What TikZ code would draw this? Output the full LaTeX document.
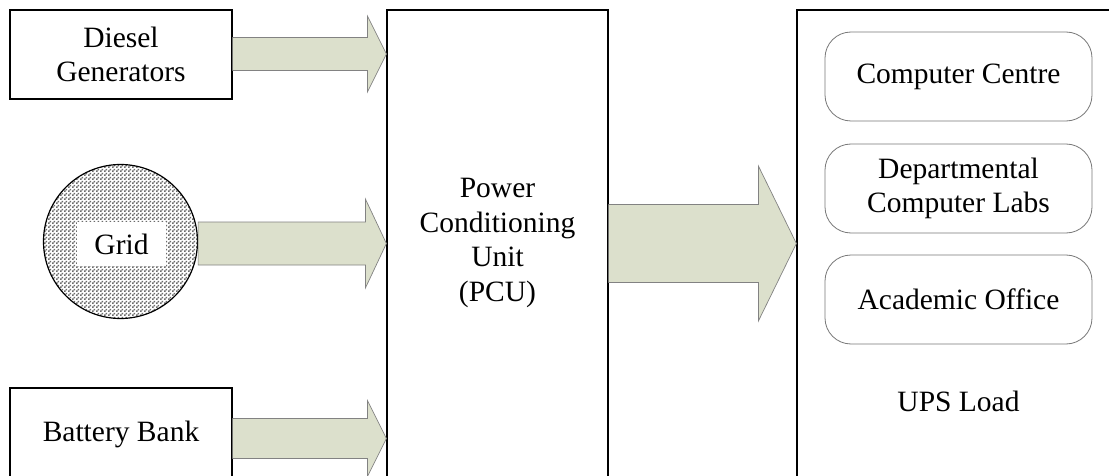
\documentclass[tikz,border=0pt]{standalone}
\usepackage{fontspec}
\setmainfont{Liberation Serif}
\usetikzlibrary{calc,patterns}
\definecolor{arrowfill}{RGB}{220,224,204}
\definecolor{arrowline}{RGB}{130,130,130}
\definecolor{roundline}{RGB}{120,120,120}
\pgfdeclarepatternformonly{checker}{\pgfpointorigin}{\pgfpoint{4pt}{4pt}}{\pgfpoint{4pt}{4pt}}{%
  \pgfpathrectangle{\pgfpointorigin}{\pgfpoint{2pt}{2pt}}%
  \pgfpathrectangle{\pgfpoint{2pt}{2pt}}{\pgfpoint{2pt}{2pt}}%
  \pgfusepath{fill}}
\tikzset{
  txt/.style={font=\fontsize{29.5}{33.5}\selectfont, align=center},
  srcbox/.style={txt, draw=black, line width=1.2pt, fill=white, inner sep=0pt},
  loadbox/.style={txt, draw=roundline, line width=0.8pt, rounded corners=26pt, fill=white,
    minimum width=267pt, minimum height=89pt, inner sep=0pt},
  blockarrow/.style={draw=arrowline, line width=0.7pt, fill=arrowfill, line join=miter},
}
\newcommand{\blkarrow}[5]{%
  \draw[blockarrow] ($(#1)+(0,#3)$) -- ($(#2)+(-#5,#3)$) -- ($(#2)+(-#5,#4)$) -- (#2)
    -- ($(#2)+(-#5,-#4)$) -- ($(#2)+(-#5,-#3)$) -- ($(#1)+(0,-#3)$) -- cycle;}
\begin{document}
\begin{tikzpicture}[x=1pt,y=-1pt]
\clip (0,0) rectangle (1109,476);
\fill[white] (0,0) rectangle (1109,476);
% sources
\node[srcbox, minimum width=222pt, minimum height=89pt] (dg) at (121,54.5) {Diesel\\Generators};
\node[draw=black, line width=1.2pt, circle, minimum size=154pt, pattern=checker, pattern color=black!58] (grid) at (120.5,241.5) {};
\node[txt, fill=white, minimum width=89pt, minimum height=44pt, inner sep=0pt] (gridlbl) at (121.5,244) {Grid};
\node[srcbox, minimum width=222pt, minimum height=92pt] (bb) at (121,434) {Battery Bank};
% PCU
\node[srcbox, minimum width=221pt, minimum height=480pt] (pcu) at (497.5,250) {};
\node[txt, font=\fontsize{29.5}{34.7}\selectfont] (pcutxt) at (497.5,243) {Power\\Conditioning\\Unit\\(PCU)};
% load
\node[srcbox, minimum width=323pt, minimum height=480pt] (load) at (958.5,250) {};
\node[loadbox] (cc) at (958.5,76.5) {Computer Centre};
\node[loadbox] (dcl) at (958.5,188.5) {Departmental\\Computer Labs};
\node[loadbox] (ao) at (958.5,299.5) {Academic Office};
\node[txt] (ups) at (958.5,401) {UPS Load};
% arrow anchors
\coordinate (s1) at ($(dg.east)+(0,-0.5)$);
\coordinate (t1) at (pcu.west |- s1);
\coordinate (s2) at ($(grid.east)+(0,2)$);
\coordinate (t2) at (pcu.west |- s2);
\coordinate (s3) at ($(bb.east)+(0,4.5)$);
\coordinate (t3) at (pcu.west |- s3);
\coordinate (s4) at (pcu.east |- s2);
\coordinate (t4) at (load.west |- s4);
\blkarrow{s1}{t1}{16.5}{38}{19}
\blkarrow{s2}{t2}{21.5}{44.5}{21}
\blkarrow{s3}{t3}{20}{38}{19}
\blkarrow{s4}{t4}{39}{77.5}{38}
\end{tikzpicture}
\end{document}
